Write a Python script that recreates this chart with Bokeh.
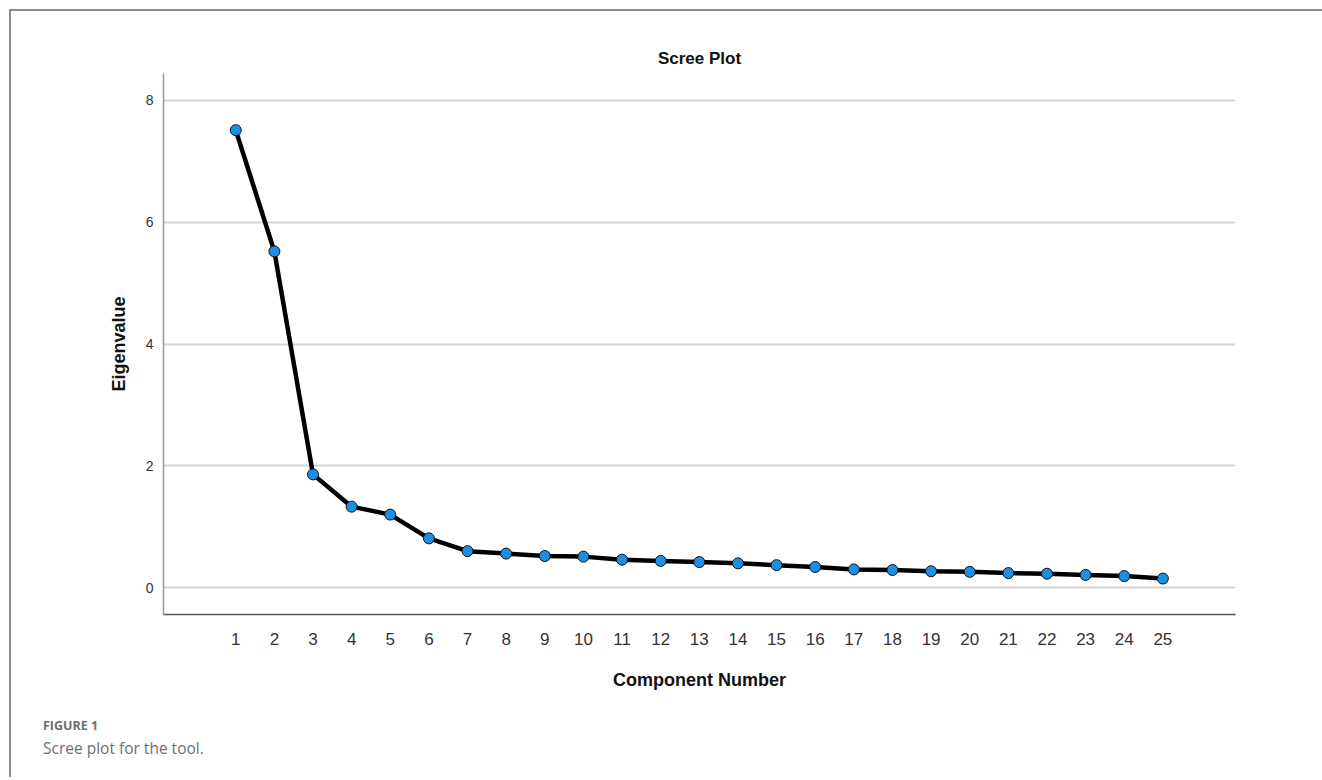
from bokeh.plotting import figure
from bokeh.models import FixedTicker, Range1d, Div, ColumnDataSource
from bokeh.layouts import column
from bokeh.embed import file_html
from bokeh.resources import INLINE

components = list(range(1, 26))
eigenvalues = [7.51, 5.52, 1.86, 1.33, 1.20, 0.81, 0.60, 0.56, 0.52, 0.51,
               0.46, 0.44, 0.42, 0.40, 0.37, 0.34, 0.30, 0.29, 0.27, 0.26,
               0.24, 0.23, 0.21, 0.19, 0.15]
y_ticks = [0, 2, 4, 6, 8]

title_text = "Scree Plot"
x_label = "Component Number"
y_label = "Eigenvalue"
caption_head = "FIGURE 1"
caption_body = "Scree plot for the tool."

src = ColumnDataSource(dict(x=components, y=eigenvalues))

p = figure(width=1311, height=690, output_backend="svg", toolbar_location=None,
           x_range=Range1d(-0.87, 26.88), y_range=Range1d(-0.44, 8.44),
           min_border_left=152, min_border_right=87, min_border_top=62,
           min_border_bottom=87, title=title_text)
p.outline_line_color = None
p.background_fill_color = "white"
p.border_fill_color = "white"

p.title.align = "center"
p.title.text_font = "Liberation Sans"
p.title.text_font_size = "17px"
p.title.text_font_style = "bold"
p.title.text_color = "#111111"
p.title.standoff = 11

p.xgrid.grid_line_color = None
p.ygrid.grid_line_color = "#d4d4d4"
p.ygrid.grid_line_width = 2

p.xaxis.ticker = FixedTicker(ticks=components)
p.yaxis.ticker = FixedTicker(ticks=y_ticks)

for ax in (p.xaxis[0], p.yaxis[0]):
    ax.major_tick_line_color = None
    ax.minor_tick_line_color = None
    ax.major_label_text_font = "Liberation Sans"
    ax.axis_label_text_font = "Liberation Sans"
    ax.axis_label_text_font_style = "bold"
    ax.axis_label_text_color = "#111111"

p.xaxis.axis_line_color = "#555555"
p.xaxis.axis_line_width = 1.5
p.xaxis.major_label_text_font_size = "17px"
p.xaxis.major_label_text_color = "#333333"
p.xaxis.major_label_standoff = 12
p.xaxis.axis_label = x_label
p.xaxis.axis_label_text_font_size = "18px"
p.xaxis.axis_label_standoff = 22

p.yaxis.axis_line_color = "#999999"
p.yaxis.axis_line_width = 1.5
p.yaxis.major_label_text_font_size = "14px"
p.yaxis.major_label_text_color = "#333333"
p.yaxis.major_label_standoff = 4
p.yaxis.axis_label = y_label
p.yaxis.axis_label_text_font_size = "18px"
p.yaxis.axis_label_standoff = 14

p.line("x", "y", source=src, line_color="black", line_width=4.5)
p.scatter("x", "y", source=src, size=11, fill_color="#1a8fe3",
          line_color="#111111", line_width=1)

cap = Div(text=(f'<div style="font-family:\'Open Sans\';color:#6f6f6f;">'
                f'<div style="font-size:12.5px;font-weight:700;">{caption_head}</div>'
                f'<div style="font-size:15.5px;margin-top:2px;">{caption_body}</div></div>'),
          width=600, height=55,
          styles={"margin-left": "32px", "margin-top": "16px"})

layout = column(p, cap, styles={"border-top": "2px solid #8a8a8a",
                                "border-left": "2px solid #8a8a8a",
                                "margin-left": "9px", "margin-top": "9px"})

open("out.html", "w").write(file_html(layout, INLINE))
